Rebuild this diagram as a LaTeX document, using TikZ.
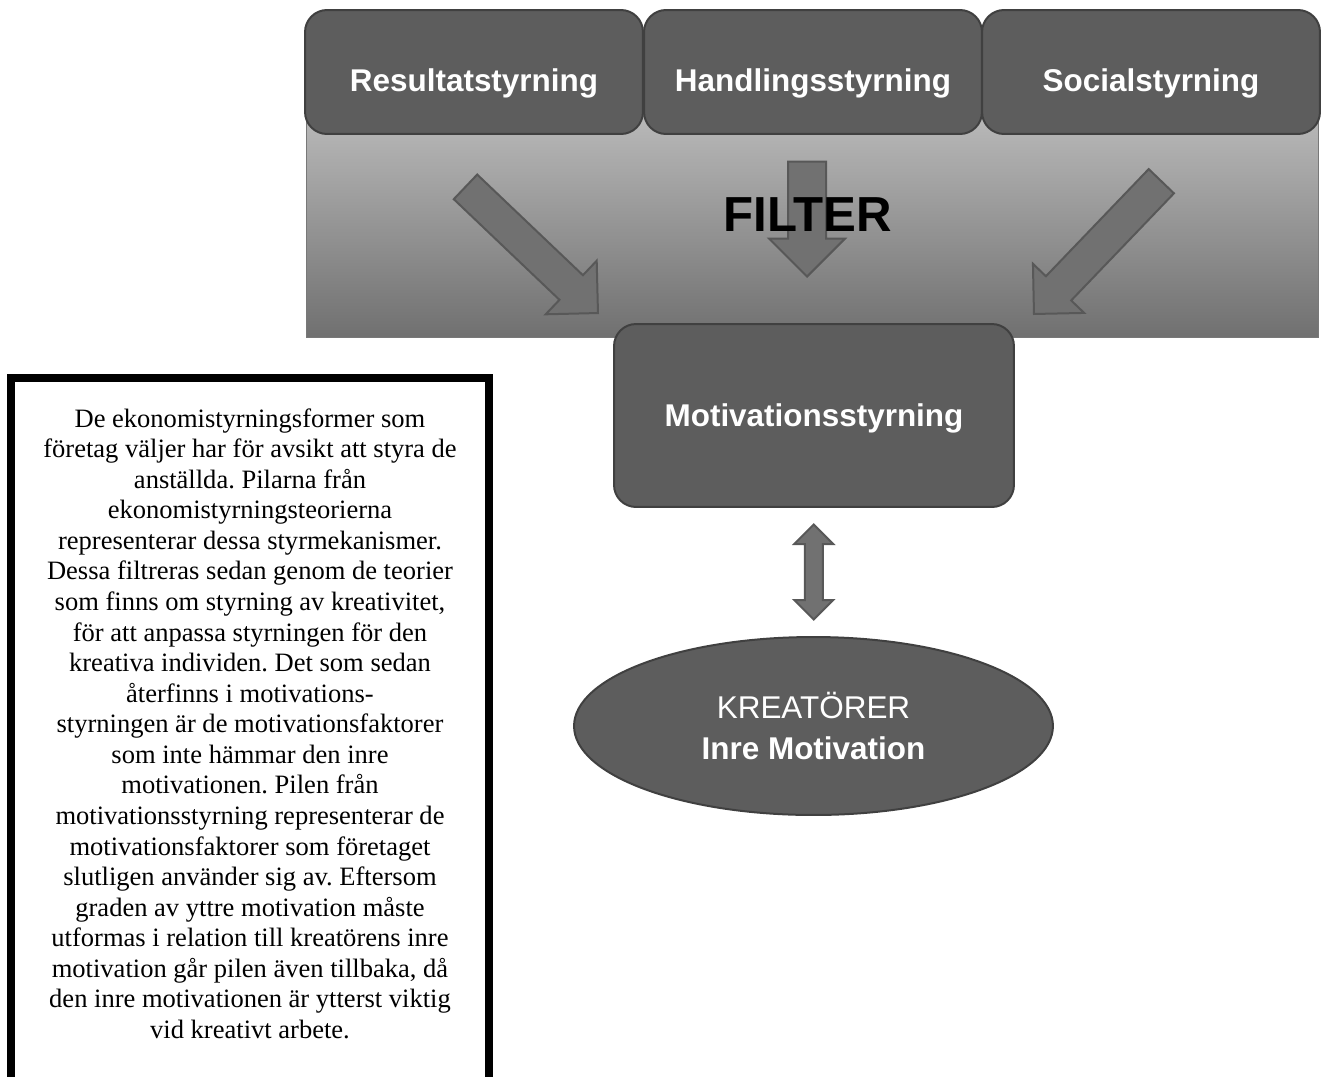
\documentclass[tikz,border=0pt]{standalone}
\usepackage{fontspec}
\setmainfont{Liberation Serif}
\setsansfont{Liberation Sans}
\usepackage{tikz}
\usetikzlibrary{shapes.geometric,shapes.arrows}

\definecolor{boxgray}{RGB}{93,93,93}
\definecolor{boxline}{RGB}{64,64,64}
\definecolor{arrowgray}{RGB}{113,113,113}
\definecolor{arrowline}{RGB}{88,88,88}
\definecolor{filtertop}{RGB}{203,203,203}
\definecolor{filterbot}{RGB}{112,112,112}
\definecolor{filterline}{RGB}{120,120,120}

\begin{document}
\frenchspacing
\begin{tikzpicture}
  [x=0.02cm, y=-0.02cm,
   sbox/.style={draw=boxline, fill=boxgray, line width=0.04cm, rounded corners=0.44cm,
                text=white, font=\sffamily\bfseries\fontsize{17.9}{21}\selectfont},
   topbox/.style={sbox, minimum width=6.76cm, minimum height=2.48cm,
                  text height=0.76cm, text depth=0pt},
   fatarrow/.style={single arrow, draw=arrowline, fill=arrowgray, line width=0.04cm,
                    inner xsep=0pt, anchor=tip}]

  \useasboundingbox (0,0) rectangle (1322,1076);

  % filter band
  \draw[filterline, line width=0.02cm, top color=filtertop, bottom color=filterbot]
    (306,60) rectangle (1318,337);

  % control forms
  \node[topbox] (res) at (474,72) {Resultatstyrning};
  \node[topbox] (hand) at (813,72) {Handlingsstyrning};
  \node[topbox] (soc) at (1151,72) {Socialstyrning};

  % arrows through the filter
  \node[fatarrow, rotate=-43.6, minimum height=3.66cm, inner ysep=0.32cm,
        single arrow head extend=0.4cm] (pilres) at (599,314) {};
  \node[fatarrow, rotate=-90, minimum height=2.3cm, inner ysep=0.36cm,
        single arrow head extend=0.38cm] (pilhand) at (807,278) {};
  \node[fatarrow, rotate=-133.8, minimum height=3.68cm, inner ysep=0.33cm,
        single arrow head extend=0.36cm] (pilsoc) at (1033,315) {};

  \node[font=\sffamily\bfseries\fontsize{28}{32}\selectfont, text depth=0pt]
    (filter) at (808,215) {FILTER};

  % motivation
  \node[sbox, minimum width=8cm, minimum height=3.66cm, text depth=0pt]
    (motiv) at (814,415.5) {Motivationsstyrning};

  \node[ellipse, draw=boxline, fill=boxgray, line width=0.04cm, minimum width=9.58cm,
        minimum height=3.56cm, text=white, align=center,
        font=\sffamily\fontsize{17.9}{22.8}\selectfont]
    (kreat) at (813.5,726) {KREATÖRER\\\textbf{Inre Motivation}};

  \path (motiv.south) -- node[double arrow, draw=arrowline, fill=arrowgray,
        line width=0.04cm, rotate=90, minimum height=1.9cm, inner xsep=0pt,
        inner ysep=0.16cm, double arrow head extend=0.21cm] (dubbel) {} (kreat.north);

  % description
  \draw[line width=0.16cm] (11,378) rectangle (489,1100);
  \node[anchor=north, align=center, inner sep=0pt,
        font=\fontsize{15.1}{17.4}\selectfont] (beskr) at (250,408)
    {De ekonomistyrningsformer som\\
     företag väljer har för avsikt att styra de\\
     anställda. Pilarna från\\
     ekonomistyrningsteorierna\\
     representerar dessa styrmekanismer.\\
     Dessa filtreras sedan genom de teorier\\
     som finns om styrning av kreativitet,\\
     för att anpassa styrningen för den\\
     kreativa individen. Det som sedan\\
     återfinns i motivations-\\
     styrningen är de motivationsfaktorer\\
     som inte hämmar den inre\\
     motivationen. Pilen från\\
     motivationsstyrning representerar de\\
     motivationsfaktorer som företaget\\
     slutligen använder sig av. Eftersom\\
     graden av yttre motivation måste\\
     utformas i relation till kreatörens inre\\
     motivation går pilen även tillbaka, då\\
     den inre motivationen är ytterst viktig\\
     vid kreativt arbete.};

\end{tikzpicture}
\end{document}
